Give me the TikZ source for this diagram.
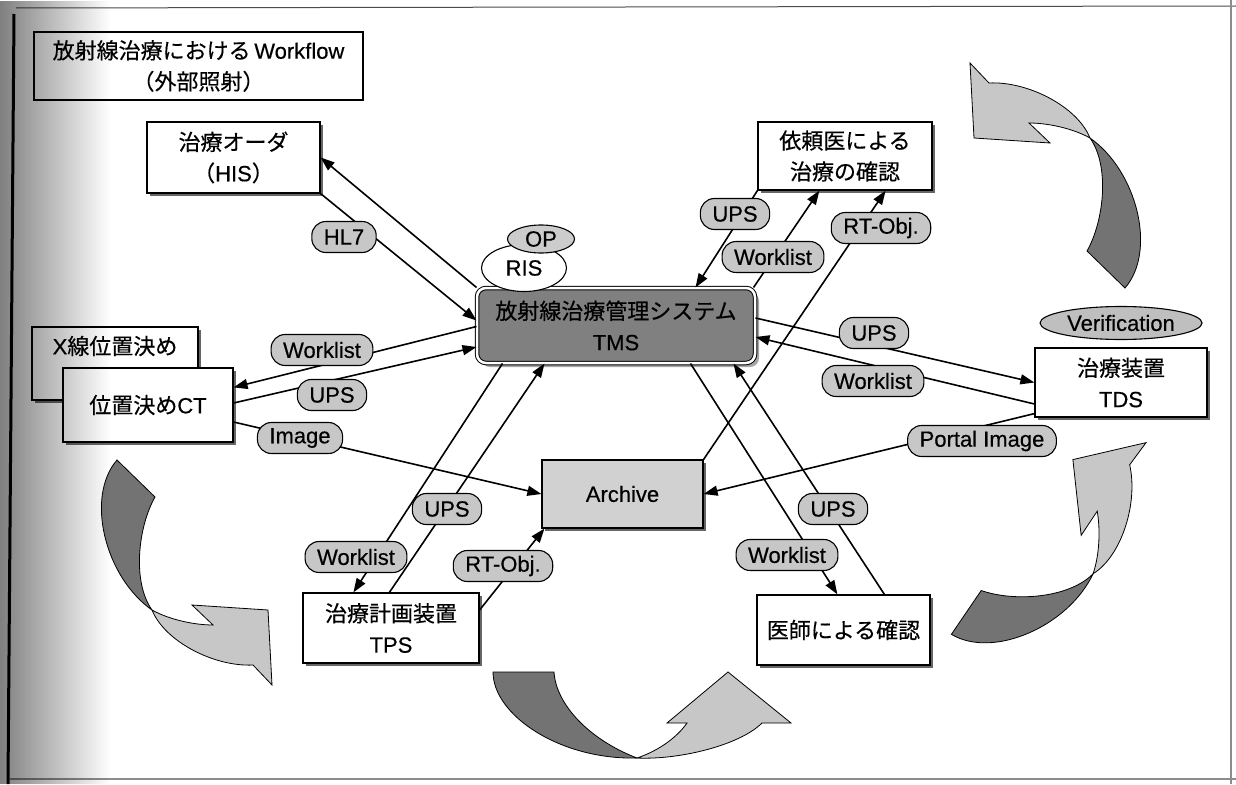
\documentclass[tikz,border=0pt]{standalone}
\usepackage{fontspec}
\setmainfont{Liberation Sans}[FakeBold=0.4]
\newfontfamily\jp{Noto Sans CJK JP}[FakeBold=0.4]
\usetikzlibrary{arrows.meta,shapes.geometric,shadows,fadings}
\newcommand\fs{\fontsize{22}{31}\selectfont}
\tikzfading[name=hazefade, left color=transparent!50, right color=transparent!100]
% twisted ribbon arrow: dark tail, twist point, light head
\newcommand\ribbonarrow{%
  \filldraw[darkpart] (-73,-112) -- (-35,-75) .. controls (-52,-45) and (-58,10) .. (-38,38)
     .. controls (-85,5) and (-105,-75) .. (-73,-112) -- cycle;
  \filldraw[lightpart] (-38,38) .. controls (-25,70) and (25,95) .. (63,93) -- (82,113) -- (78,38)
     -- (2,33) -- (23,53) .. controls (5,53) and (-20,48) .. (-38,38) -- cycle;
}
\begin{document}
\begin{tikzpicture}[x=1pt,y=-1pt,
  box/.style={draw=black, line width=1.2pt, fill=white, align=center, font=\fs, inner sep=0pt,
    drop shadow={shadow xshift=3pt, shadow yshift=-3pt, fill=black!60, opacity=1}},
  tag/.style={draw=black, line width=1.1pt, fill=black!22, rounded corners=14pt, minimum height=31pt,
    inner xsep=12pt, inner ysep=0pt, font=\fs},
  oval/.style={ellipse, draw=black, line width=1.1pt, inner sep=0pt, font=\fs},
  flow/.style={line width=1.6pt, -{Triangle[length=14pt,width=10pt]}},
  darkpart/.style={fill=black!55, draw=black, line width=0.8pt},
  lightpart/.style={fill=black!22, draw=black, line width=0.8pt}]

\useasboundingbox (0,0) rectangle (1236,784);
\fill[white] (0,0) rectangle (1236,784);

% page frame
\draw[line width=1pt, black!70] (16,8) -- (1236,6);
\draw[line width=1.5pt, black!45] (1231,0) -- (1231,784);
\draw[line width=1.5pt, black!45] (10,779) -- (1236,779);

% title
\node[draw=black, line width=1.1pt, fill=white, align=center, font=\fs, minimum width=329pt, minimum height=68pt]
  (title) at (198.5,66) {{\jp 放射線治療における}\,Workflow\\{\jp （外部照射）}};

% cycle arrows
\begin{scope}[shift={(190,572)}] \ribbonarrow \end{scope}
\begin{scope}[shift={(1052,176)}, rotate=180] \ribbonarrow \end{scope}
\begin{scope}[shift={(1049,543)}, rotate=100] \ribbonarrow \end{scope}
\filldraw[darkpart] (493,672) -- (554,672) .. controls (556,705) and (590,740) .. (637,758)
   .. controls (560,760) and (493,715) .. (493,672) -- cycle;
\filldraw[lightpart] (637,758) .. controls (680,760) and (740,745) .. (762,723) -- (791,723) -- (728,672)
   -- (667,723) -- (687,723) .. controls (675,740) and (655,752) .. (637,758) -- cycle;

% systems
\node[box, minimum width=173pt, minimum height=71pt] (his) at (233.5,157.5) {{\jp 治療オーダ}\\{\jp （}HIS{\jp ）}};
\node[box, minimum width=174pt, minimum height=68pt] (irai) at (845,156) {{\jp 依頼医による}\\{\jp 治療の確認}};
\node[box, minimum width=166pt, minimum height=73pt] (xray) at (115,363.5) {};
\node[font=\fs] (xraytext) at (115,346) {X{\jp 線位置決め}};
\node[box, minimum width=170pt, minimum height=74pt] (ct) at (148,405) {{\jp 位置決め}CT};
\node[box, fill=black!18, minimum width=161pt, minimum height=68pt] (archive) at (622.5,494) {Archive};
\node[box, minimum width=172pt, minimum height=69pt] (tds) at (1121,382.5) {{\jp 治療装置}\\TDS};
\node[box, minimum width=176pt, minimum height=70pt] (tps) at (391,628) {{\jp 治療計画装置}\\TPS};
\node[box, minimum width=173pt, minimum height=70pt] (ishi) at (843.5,630) {{\jp 医師による確認}};
\node[draw=black, line width=1pt, double=white, double distance=2.5pt, fill=black!50, rounded corners=9pt,
  minimum width=278pt, minimum height=75pt, align=center, font=\fs, inner sep=0pt,
  drop shadow={shadow xshift=4pt, shadow yshift=-4pt, fill=black!35, opacity=1}]
  (tms) at (616,325.5) {{\jp 放射線治療管理システム}\\TMS};

\node[oval, fill=white, minimum width=85pt, minimum height=47pt] (ris) at (524,268) {RIS};
\node[oval, fill=black!20, minimum width=67pt, minimum height=28pt] (op) at (541,239) {OP};
\node[oval, fill=black!25, minimum width=162pt, minimum height=33pt] (verif) at (1121,323) {Verification};

% connectors
\draw[flow] (tms.north west) -- (his.east);
\draw[flow] (his.south east) -- ([yshift=5pt]tms.west);
\draw[flow] ([yshift=-1pt]tms.west) -- ([yshift=-20pt]ct.north east);
\draw[flow] ([yshift=2pt]ct.east) -- ([yshift=-21.5pt]tms.west);
\draw[flow] ([yshift=-17pt]ct.east) -- (archive.west);
\draw[flow] (irai.south west) -- ([xshift=-60pt]tms.north east);
\draw[flow] ([xshift=-2pt]tms.north east) -- ([xshift=62pt]irai.south west);
\draw[flow] (archive.north east) -- ([xshift=-47pt]irai.south east);
\draw[flow] ([yshift=7.5pt]tms.east) -- (tds.west);
\draw[flow] ([yshift=-21.5pt]tds.west) -- ([yshift=-11.5pt]tms.east);
\draw[flow] ([yshift=4pt]tds.south west) -- (archive.east);
\draw[flow] ([xshift=26pt]tms.south west) -- ([xshift=51pt]tps.north west);
\draw[flow] ([xshift=87pt]tps.north west) -- ([xshift=68pt]tms.south west);
\draw[flow] ([yshift=18pt]tps.east) -- ([xshift=3pt]archive.south west);
\draw[flow] ([xshift=-65pt]tms.south east) -- ([xshift=81pt]ishi.north west);
\draw[flow] ([xshift=128pt]ishi.north west) -- ([xshift=-22pt]tms.south east);

% message labels
\node[tag] (lhl7) at (344,237) {HL7};
\node[tag] (lwl1) at (322,350) {Worklist};
\node[tag] (lups1) at (332,395) {UPS};
\node[tag] (limg) at (300,438) {Image};
\node[tag] (lups2) at (735,214) {UPS};
\node[tag] (lwl2) at (773,257) {Worklist};
\node[tag] (lrt1) at (881,228) {RT-Obj.};
\node[tag] (lups3) at (874,333) {UPS};
\node[tag] (lwl3) at (873,381) {Worklist};
\node[tag] (lportal) at (982,441) {Portal Image};
\node[tag] (lups4) at (447,509) {UPS};
\node[tag] (lwl4) at (356,557) {Worklist};
\node[tag] (lrt2) at (503,566) {RT-Obj.};
\node[tag] (lups5) at (833,509) {UPS};
\node[tag] (lwl5) at (787,555) {Worklist};

% scanner haze along the left edge
\fill[black, path fading=hazefade] (0,0) rectangle (110,784);
\draw[line width=3pt] (14,14) -- (8,784);
\end{tikzpicture}
\end{document}
